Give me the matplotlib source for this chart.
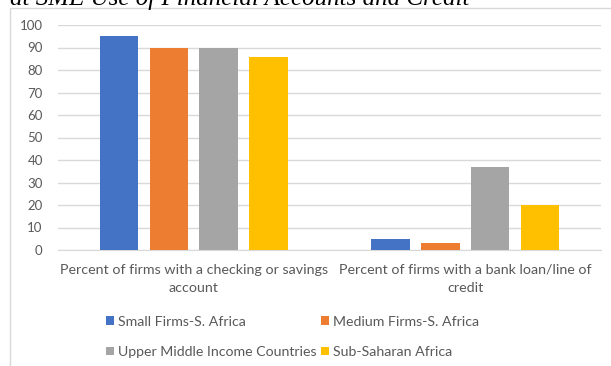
import matplotlib
matplotlib.use("Agg")
import matplotlib.pyplot as plt
import numpy as np
from matplotlib.patches import Rectangle

categories = [
    "Percent of firms with a checking or savings\naccount",
    "Percent of firms with a bank loan/line of\ncredit",
]
series_names = [
    "Small Firms-S. Africa",
    "Medium Firms-S. Africa",
    "Upper Middle Income Countries",
    "Sub-Saharan Africa",
]
small_firms_sa = [95, 5]
medium_firms_sa = [90, 3]
upper_middle_income = [90, 37]
sub_saharan_africa = [86, 20]
y_ticks = [0, 10, 20, 30, 40, 50, 60, 70, 80, 90, 100]

colors = ["#4472C4", "#ED7D31", "#A5A5A5", "#FFC000"]
text_color = "#595959"
grid_color = "#D9D9D9"
font = ["Lato", "DejaVu Sans"]

W, H = 611, 366
fig = plt.figure(figsize=(W / 100, H / 100), dpi=100)

# caption above the chart, clipped by the top edge
fig.text(10 / W, 1 - 5 / H, "at SME Use of Financial Accounts and Credit",
         family="Liberation Serif", style="italic", fontsize=18,
         color="black", ha="left", va="baseline")

# chart frame
fig.patches.append(Rectangle((10 / W, -0.1), 1.0, 1 - 8 / H + 0.1,
                             transform=fig.transFigure, fill=False,
                             edgecolor=grid_color, linewidth=1.0))

ax = fig.add_axes([58 / W, 1 - 250 / H, (601 - 58) / W, (250 - 25) / H])

series = [small_firms_sa, medium_firms_sa, upper_middle_income, sub_saharan_africa]
x = np.arange(len(categories))
width = 0.142
step = 0.183
handles = []
for i, (vals, name, c) in enumerate(zip(series, series_names, colors)):
    b = ax.bar(x + (i - 1.5) * step, vals, width, color=c, label=name, zorder=3)
    handles.append(b)

ax.set_xlim(-0.5, len(categories) - 0.5)
ax.set_ylim(0, 100)
ax.set_yticks(y_ticks)
ax.set_xticks(x)
ax.set_xticklabels(categories, linespacing=1.65)
ax.yaxis.grid(True, color=grid_color, linewidth=1.0, zorder=0)
for s in ["top", "right", "left"]:
    ax.spines[s].set_visible(False)
ax.spines["bottom"].set_color(grid_color)
ax.tick_params(axis="y", length=0, colors=text_color, labelsize=9.5, pad=11)
ax.tick_params(axis="x", length=0, colors=text_color, labelsize=10.3, pad=10)
for lbl in ax.get_xticklabels() + ax.get_yticklabels():
    lbl.set_family(font)

# legend laid out row by row: two entries per row
order = [0, 2, 1, 3]
leg = fig.legend([handles[i] for i in order], [series_names[i] for i in order],
                 loc="upper left", bbox_to_anchor=(93 / W, 1 - 303 / H),
                 ncol=2, frameon=False, handlelength=0.55, handleheight=0.55,
                 handletextpad=0.3, columnspacing=0.35, labelspacing=1.3,
                 prop={"family": font, "size": 10.2})
for t in leg.get_texts():
    t.set_color(text_color)

fig.savefig("out.png", dpi=100)
